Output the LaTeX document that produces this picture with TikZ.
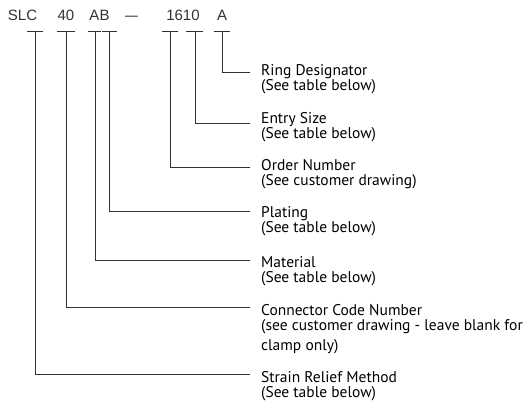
\documentclass[tikz,border=0pt]{standalone}
\usepackage{fontspec}
\setmainfont{PT Sans}
\newfontfamily\codefont{Liberation Sans}
\usetikzlibrary{calc}

\tikzset{
	codetext/.style={font=\codefont\fontsize{15}{15}\selectfont, anchor=base, inner sep=0pt, text=black!80},
	desc/.style={font=\fontsize{15.5}{15}\selectfont, anchor=base west, inner sep=0pt, align=left},
	lead/.style={line width=0.8pt, color=black!80},
}

\begin{document}
\begin{tikzpicture}[x=1pt, y=-1pt]
			%%%%% START %%%%%
			\useasboundingbox (0, 0) rectangle (524, 405);
			
			\node[codetext] (cSLC) at (22.5, 20) {SLC};
			\node[codetext] (cCode) at (66, 20) {40};
			\node[codetext] (cPlat) at (99.5, 20) {AB};
			\node[codetext] (cDash) at (131.5, 20) {\scalebox{0.85}[1]{—}};
			\node[codetext] (cOrd) at (183, 20) {1610};
			\node[codetext] (cRing) at (222, 20) {A};
			
			\coordinate (tS) at (35, 31);
			\coordinate (tC) at (66, 31);
			\coordinate (tM) at (95, 31);
			\coordinate (tP) at (109, 31);
			\coordinate (tO) at (170, 31);
			\coordinate (tE) at (195, 31);
			\coordinate (tR) at (222, 31);
			
			\coordinate (eR) at (250, 72);
			\coordinate (eE) at (250, 123);
			\coordinate (eO) at (250, 167);
			\coordinate (eP) at (250, 211);
			\coordinate (eM) at (250, 260);
			\coordinate (eC) at (250, 307);
			\coordinate (eS) at (250, 374);
			
			% base anchor sits on the last line
			\node[desc] (lR) at (261, 90) {Ring Designator\\(See table below)};
			\node[desc] (lE) at (261, 138) {Entry Size\\(See table below)};
			\node[desc] (lO) at (261, 185) {Order Number\\(See customer drawing)};
			\node[desc] (lP) at (261, 232) {Plating\\(See table below)};
			\node[desc] (lM) at (261, 282) {Material\\(See table below)};
			\node[desc] (lC) at (261, 350) {Connector Code Number\\(see customer drawing - leave blank for\\[5pt]clamp only)};
			\node[desc] (lS) at (261, 397) {Strain Relief Method\\(See table below)};
			
			\draw[lead] ($(tS)+(-8, 0)$) -- ($(tS)+(8, 0)$);
			\draw[lead] (tS) |- (eS);
			
			\draw[lead] ($(tC)+(-9, 0)$) -- ($(tC)+(9, 0)$);
			\draw[lead] (tC) |- (eC);
			
			\draw[lead] ($(tM)+(-7, 0)$) -- ($(tM)+(6, 0)$);
			\draw[lead] (tM) |- (eM);
			
			\draw[lead] ($(tP)+(-7, 0)$) -- ($(tP)+(8, 0)$);
			\draw[lead] (tP) |- (eP);
			
			\draw[lead] ($(tO)+(-8, 0)$) -- ($(tO)+(8, 0)$);
			\draw[lead] (tO) |- (eO);
			
			\draw[lead] ($(tE)+(-9, 0)$) -- ($(tE)+(8, 0)$);
			\draw[lead] (tE) |- (eE);
			
			\draw[lead] ($(tR)+(-8, 0)$) -- ($(tR)+(8, 0)$);
			\draw[lead] (tR) |- (eR);
			
			%%%%% END %%%%%
\end{tikzpicture}
\end{document}
